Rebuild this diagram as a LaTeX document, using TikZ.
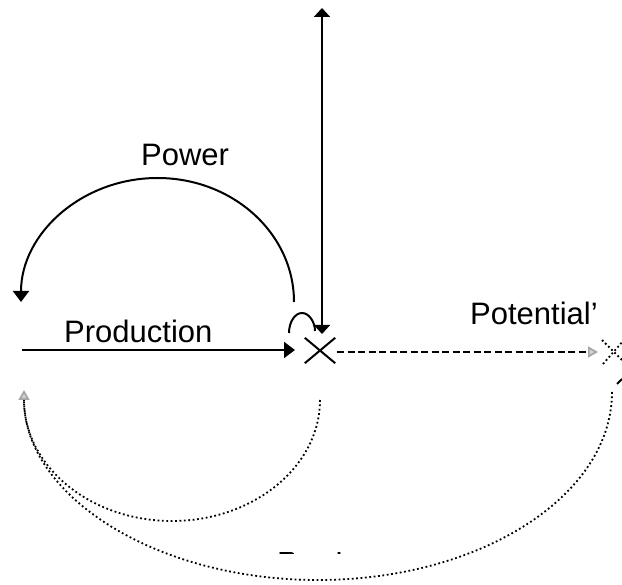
\documentclass[tikz,border=0pt]{standalone}
\usepackage{fontspec}
\setmainfont{Liberation Sans}
\usetikzlibrary{arrows.meta}
\tikzset{
  ln/.style={line width=2pt},
  sarrow/.style={-{Triangle[width=16pt,length=11pt]}},
  darrow/.style={{Triangle[width=16pt,length=9pt]}-{Triangle[width=16pt,length=9pt]}},
  garrow/.style={-{Triangle[width=11pt,length=10pt,color=gray!70,fill=gray!35]}},
  dashedln/.style={line width=1.7pt,dash pattern=on 7pt off 3.5pt},
  dottedln/.style={line width=1.8pt,dash pattern=on 1.8pt off 2.6pt},
  lbl/.style={inner sep=0pt,anchor=base west,font=\fontsize{31}{37}\selectfont}
}
\begin{document}
\begin{tikzpicture}[x=1pt,y=-1pt]
\useasboundingbox (0,0) rectangle (622,585);
% coordinates
\coordinate (vtop) at (322,8);
\coordinate (vbot) at (322,334);
\coordinate (prodL) at (22,350);
\coordinate (prodR) at (295,350);
\coordinate (pwR) at (294,302);
\coordinate (pwL) at (21,302);
\coordinate (loopL) at (289,333);
\coordinate (loopR) at (315,331);
\coordinate (dashL) at (337,352);
\coordinate (dashR) at (598,352);
\coordinate (aR) at (320,400);
\coordinate (bR) at (612,392);
\coordinate (tipL) at (24,390);
% valve X
\node[inner sep=0pt,minimum width=30pt,minimum height=25pt] (valve) at (320,350.5) {};
\draw[ln] (valve.north west) -- (valve.south east);
\draw[ln] (valve.south west) -- (valve.north east);
% labels
\node[lbl] (power) at (141,166) {Power};
\node[lbl] (production) at (64,343) {Production};
\node[lbl] (potential) at (470,325) {Potential’};
% vertical double arrow
\draw[ln,darrow] (vtop) -- (vbot);
% production arrow
\draw[ln,sarrow] (prodL) -- (prodR);
% power arc
\draw[ln,sarrow] (pwR) .. controls (294,233.5) and (232.9,178) .. (157.5,178)
  .. controls (82.1,178) and (21,233.5) .. (pwL);
% small loop
\draw[ln] (loopL) .. controls (289,322) and (295,313) .. (302,313)
  .. controls (309,313) and (315,322) .. (loopR);
% dashed outflow
\draw[dashedln,garrow] (dashL) -- (dashR);
% dotted sink X at right
\draw[dottedln] (602,340) -- (624,362);
\draw[dottedln] (603,364) -- (624,340);
\draw[line width=1.8pt] (617,384) -- (622,379);
% dotted curves
\draw[dottedln] (aR) .. controls (320,466.3) and (253.7,521) .. (172,521)
  .. controls (90.3,521) and (24,466.3) .. (24,400);
\draw[dottedln,garrow] (bR) .. controls (612,495.8) and (480.4,580) .. (318,580)
  .. controls (155.6,580) and (24,495.8) .. (tipL);
% partially hidden label
\begin{scope}
\clip (278,551.5) rectangle (293,553.4) (336,551.5) rectangle (343,553.4);
\node[lbl] (products) at (277,574) {Products};
\end{scope}
\end{tikzpicture}
\end{document}
